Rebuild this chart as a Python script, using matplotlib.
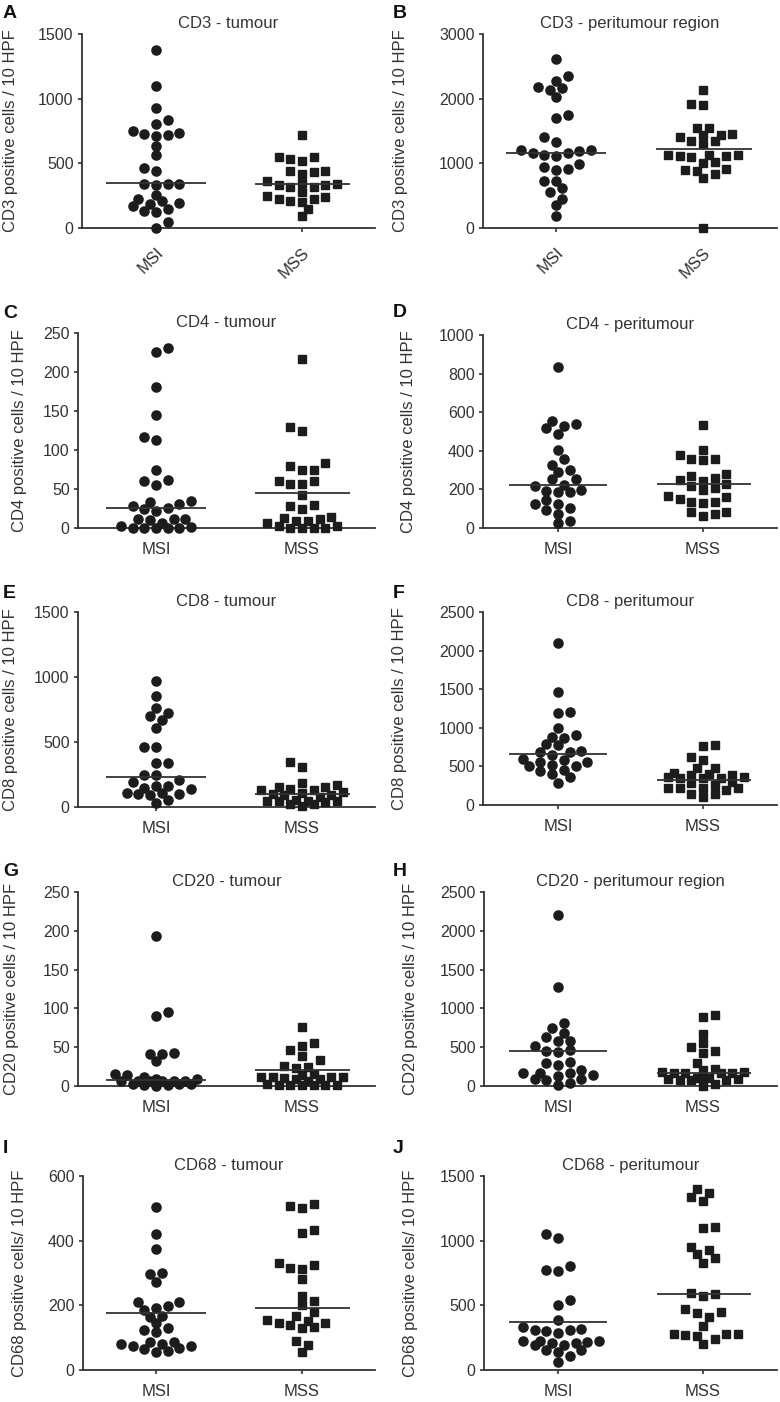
import numpy as np
import matplotlib
matplotlib.use("Agg")
import matplotlib.pyplot as plt

plt.rcParams['font.family'] = ['Liberation Sans', 'DejaVu Sans']

# ---------------- data ----------------
groups = ['MSI', 'MSS']
letters = ['A', 'B', 'C', 'D', 'E', 'F', 'G', 'H', 'I', 'J']
titles = ['CD3 - tumour', 'CD3 - peritumour region', 'CD4 - tumour', 'CD4 - peritumour',
          'CD8 - tumour', 'CD8 - peritumour', 'CD20 - tumour', 'CD20 - peritumour region',
          'CD68 - tumour', 'CD68 - peritumour']
ylabels = ['CD3 positive cells / 10 HPF', 'CD3 positive cells / 10 HPF',
           'CD4 positive cells / 10 HPF', 'CD4 positive cells / 10 HPF',
           'CD8 positive cells / 10 HPF', 'CD8 positive cells / 10 HPF',
           'CD20 positive cells / 10 HPF', 'CD20 positive cells / 10 HPF',
           'CD68 positive cells/ 10 HPF', 'CD68 positive cells/ 10 HPF']
ymax = [1500, 3000, 250, 1000, 1500, 2500, 250, 2500, 600, 1500]
ystep = [500, 1000, 50, 200, 500, 500, 50, 500, 200, 500]

msi_A = [1379, 1100, 928, 838, 804, 735, 716, 753, 709, 727, 637, 562, 443, 464, 340, 340, 330, 340,
         258, 227, 193, 168, 134, 124, 149, 188, 206, 44, 0]
mss_A = [722, 546, 515, 536, 549, 443, 430, 420, 443, 360, 340, 335, 314, 314, 335, 348, 276, 250,
         224, 211, 198, 224, 237, 147, 90]
msi_B = [2613, 2268, 2345, 2180, 2139, 2165, 2026, 1701, 1753, 1407, 1330, 1201, 1160, 1108, 1134,
         1160, 1196, 1211, 995, 892, 938, 912, 722, 732, 619, 552, 454, 351, 180]
mss_B = [2139, 1923, 1907, 1546, 1546, 1443, 1402, 1340, 1304, 1340, 1443, 1459, 1134, 1108, 1093,
         1108, 1134, 1134, 1005, 1021, 892, 840, 773, 876, 912, 0]
msi_C = [231, 226, 181, 145, 113, 117, 75, 62, 55, 60, 33, 28, 24, 22, 26, 31, 34, 11, 10, 11, 11, 7,
         2, 0, 0, 0, 0, 0, 1]
mss_C = [217, 130, 124, 80, 83, 75, 75, 56, 60, 60, 56, 42, 28, 24, 29, 13, 9, 11, 14, 7, 2, 0, 0, 0,
         0, 2, 9]
msi_D = [833, 529, 552, 517, 540, 486, 405, 324, 357, 298, 288, 253, 253, 216, 193, 186, 186, 195, 224,
         126, 103, 95, 126, 143, 72, 26, 34]
mss_D = [534, 402, 359, 353, 359, 376, 281, 271, 259, 245, 216, 198, 207, 228, 247, 164, 160, 150, 133,
         133, 129, 81, 64, 72, 83]
msi_E = [972, 857, 759, 669, 702, 725, 605, 458, 458, 340, 340, 244, 250, 206, 193, 162, 149, 136, 162,
         111, 98, 90, 98, 111, 51, 33]
mss_E = [347, 306, 185, 154, 167, 129, 111, 141, 154, 46, 46, 95, 77, 116, 39, 26, 8, 26, 46, 46, 57,
         103, 95, 130]
msi_F = [2098, 1458, 1189, 1211, 1003, 882, 869, 908, 779, 787, 692, 649, 692, 705, 554, 502, 441, 398,
         454, 502, 519, 562, 584, 597, 290, 359]
mss_F = [779, 766, 627, 584, 476, 484, 411, 398, 389, 346, 368, 346, 355, 368, 389, 281, 260, 294, 225,
         216, 195, 216, 225, 138, 108, 138]
msi_G = [193, 95, 90, 41, 32, 41, 43, 15, 14, 11, 9, 7, 6, 7, 7, 6, 7, 9, 3, 1, 0, 1, 3, 3]
mss_G = [76, 55, 47, 51, 39, 33, 25, 23, 26, 11, 10, 12, 16, 12, 11, 14, 1, 1, 1, 1, 3, 1, 1, 6, 9, 9]
msi_H = [2200, 1278, 815, 742, 678, 626, 579, 583, 519, 463, 442, 450, 292, 304, 270, 206, 172, 172,
         172, 142, 129, 90, 90, 77, 13, 34]
mss_H = [892, 913, 669, 506, 429, 450, 549, 292, 206, 184, 163, 163, 163, 172, 184, 214, 86, 77, 99,
         99, 77, 77, 86, 99, 0, 26]
msi_I = [505, 420, 373, 299, 297, 273, 198, 211, 211, 191, 186, 165, 167, 144, 129, 124, 116, 79, 75,
         65, 57, 60, 69, 75, 80, 86, 86]
mss_I = [507, 500, 513, 423, 433, 332, 316, 325, 312, 281, 230, 214, 201, 180, 168, 144, 139, 153, 155,
         132, 144, 131, 90, 77, 55]
msi_J = [1018, 1052, 773, 768, 804, 503, 541, 387, 314, 309, 289, 302, 309, 335, 227, 227, 206, 193,
         191, 206, 214, 224, 155, 137, 155, 111, 64]
mss_J = [1399, 1335, 1309, 1366, 1095, 1103, 954, 897, 928, 830, 863, 585, 575, 593, 469, 438, 446,
         407, 340, 276, 276, 263, 271, 276, 240, 198]

msi_data = [msi_A, msi_B, msi_C, msi_D, msi_E, msi_F, msi_G, msi_H, msi_I, msi_J]
mss_data = [mss_A, mss_B, mss_C, mss_D, mss_E, mss_F, mss_G, mss_H, mss_I, mss_J]
median_msi = [348, 1160, 26, 224, 232, 662, 8, 450, 175, 374]
median_mss = [340, 1227, 45, 228, 103, 324, 20, 163, 191, 585]

# ---------------- layout (pixels) ----------------
W, H = 780, 1402
rects = [(82, 34, 375, 228), (483, 34, 777, 228), (78, 333, 375, 528), (483, 335, 777, 528),
         (78, 612, 375, 807), (483, 612, 777, 805), (78, 892, 375, 1086), (484, 892, 777, 1086),
         (83, 1176, 375, 1370), (484, 1176, 777, 1370)]
tick_px = [(156, 302), (556, 703)] + [(156, 302), (558, 703)] * 4
letter_pos = [(3, 5), (393, 5), (3, 305), (393, 304), (3, 585), (393, 585), (3, 863), (393, 863),
              (3, 1140), (393, 1140)]
ylabel_x = [11, 401, 20, 409, 11, 400, 12, 410, 20, 410]

TXT = '#333333'
DOT = '#1c1c1c'
STEP_PX = 5.85      # half of the horizontal spacing between neighbours
MIN_D_PX = 8.8      # preferred minimum centre distance between markers
K_MAX = 7           # widest slot (in half steps) before overlapping is accepted


def swarm_x(vals, center, ypx, xpx):
    """Greedy beeswarm with limited width: each point takes the free slot closest
    to the centre; if none is free within the width limit, the least crowded one."""
    v = np.asarray(vals, float)
    order = np.argsort(v, kind='stable')
    placed = []  # (x_px, y_px)
    xs = np.zeros(len(v))
    nleft = nright = 0
    for idx in order:
        y = v[idx] * ypx
        chosen = None
        best, best_d = 0.0, -1.0
        for k in range(K_MAX + 1):
            cands = [0.0] if k == 0 else [k * STEP_PX, -k * STEP_PX]
            if k > 0 and nleft < nright:
                cands = cands[::-1]
            for c in cands:
                dmin = min([np.hypot(c - px, y - py) for px, py in placed] or [1e9])
                if dmin >= MIN_D_PX:
                    chosen = c
                    break
                if dmin > best_d + 0.5:
                    best, best_d = c, dmin
            if chosen is not None:
                break
        if chosen is None:
            chosen = best
        if chosen > 0:
            nright += 1
        elif chosen < 0:
            nleft += 1
        placed.append((chosen, y))
        xs[idx] = center + chosen / xpx
    return xs


fig = plt.figure(figsize=(W / 100, H / 100), dpi=100)

for i in range(10):
    l, t, r, b = rects[i]
    ax = fig.add_axes([l / W, 1 - b / H, (r - l) / W, (b - t) / H])
    p1, p2 = tick_px[i]
    unit = p2 - p1
    ax.set_xlim(1 - (p1 - l) / unit, 2 + (r - p2) / unit)
    ax.set_ylim(0, ymax[i])
    ypx = (b - t) / ymax[i]

    x1 = swarm_x(msi_data[i], 1, ypx, unit)
    x2 = swarm_x(mss_data[i], 2, ypx, unit)
    ax.plot(x1, msi_data[i], linestyle='none', marker='o', ms=6.6, color=DOT, mec=DOT,
            clip_on=False, zorder=3)
    ax.plot(x2, mss_data[i], linestyle='none', marker='s', ms=5.8, color=DOT, mec=DOT,
            clip_on=False, zorder=3)
    ax.hlines(median_msi[i], 1 - 0.34, 1 + 0.34, color=TXT, lw=1.3, zorder=4)
    ax.hlines(median_mss[i], 2 - 0.32, 2 + 0.33, color=TXT, lw=1.3, zorder=4)

    ax.set_yticks(np.arange(0, ymax[i] + 1, ystep[i]))
    ax.set_xticks([1, 2])
    ax.set_xticklabels(groups)
    for s in ['top', 'right']:
        ax.spines[s].set_visible(False)
    for s in ['left', 'bottom']:
        ax.spines[s].set_linewidth(1.3)
        ax.spines[s].set_color(TXT)
    ax.tick_params(axis='y', direction='out', length=3, width=1.2, color=TXT, labelsize=11.5,
                   labelcolor=TXT, pad=3)
    if i < 2:
        ax.tick_params(axis='x', direction='out', length=3, width=1.2, color=TXT, labelsize=12,
                       labelcolor=TXT, pad=9)
        for lab in ax.get_xticklabels():
            lab.set_rotation(45)
            lab.set_ha('right')
            lab.set_va('top')
            lab.set_rotation_mode('anchor')
    else:
        ax.tick_params(axis='x', direction='out', length=3, width=1.2, color=TXT, labelsize=12,
                       labelcolor=TXT, pad=7)
    ax.set_title(titles[i], fontsize=12, color=TXT, pad=4)
    fig.text(ylabel_x[i] / W, 1 - ((t + b) / 2) / H, ylabels[i], rotation=90, ha='center',
             va='center', fontsize=12, color=TXT)
    lx, ly = letter_pos[i]
    fig.text(lx / W, 1 - ly / H, letters[i], ha='left', va='top', fontsize=14,
             fontweight='bold', color='#111111')

fig.savefig('out.png', dpi=100)
